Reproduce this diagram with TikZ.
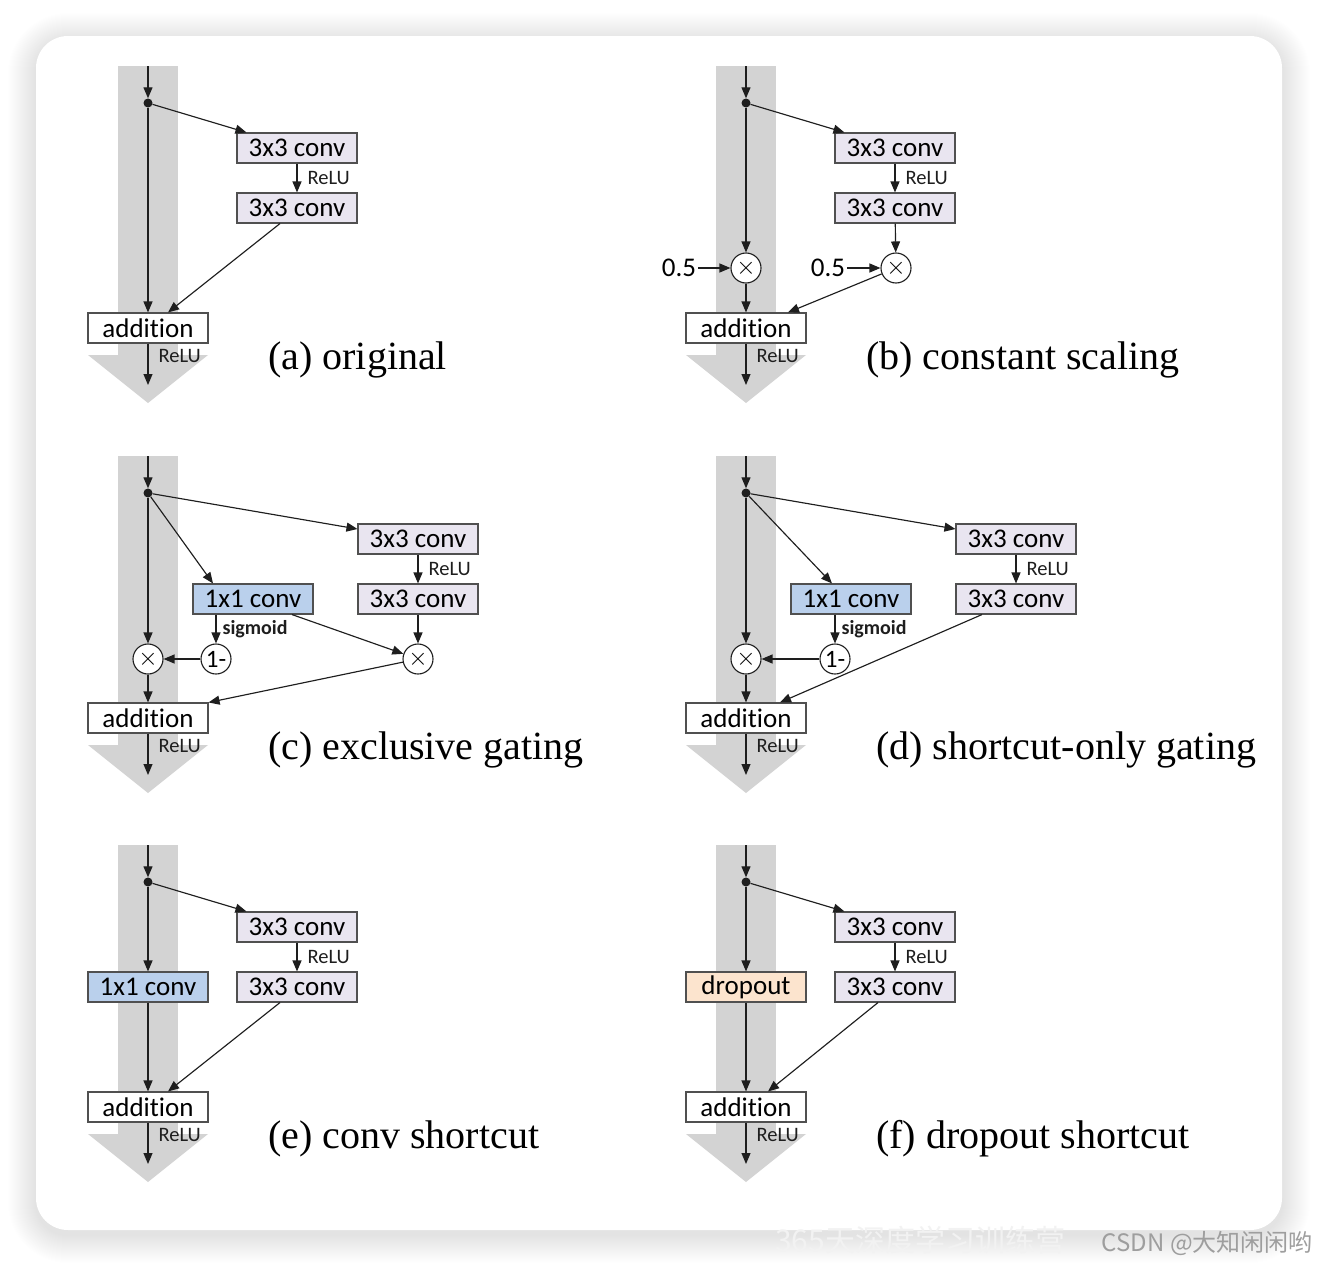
\documentclass[tikz,border=0pt]{standalone}
\usepackage{fontspec}
\setmainfont{Liberation Serif}
\newfontfamily\calfont[Ligatures=NoCommon]{Carlito}
\newfontfamily\cjkfont{Noto Sans CJK SC}
\usetikzlibrary{arrows.meta,positioning,calc}
\definecolor{band}{HTML}{D3D3D3}
\definecolor{ink}{HTML}{1E1E1E}
\definecolor{frame}{HTML}{505050}
\definecolor{lav}{HTML}{E9E5F0}
\definecolor{gate}{HTML}{BAD0EC}
\definecolor{drop}{HTML}{FCE4CE}

\begin{document}
\begin{tikzpicture}[x=1pt,y=-1pt,
  op/.style={draw=frame,line width=1.1pt,fill=white,minimum width=120pt,minimum height=30pt,inner sep=0pt,font=\calfont\fontsize{27}{30}\selectfont},
  conv/.style={op,fill=lav},
  mult/.style={circle,draw=ink,line width=1.1pt,fill=white,minimum size=30pt,inner sep=0pt,font=\fontsize{24}{24}\selectfont},
  split/.style={circle,fill=ink,inner sep=0pt,minimum size=9pt},
  flow/.style={ink,line width=1.15pt,-{Triangle[length=11pt,width=9pt]}},
  act/.style={anchor=west,xshift=10pt,inner sep=0pt,font=\calfont\fontsize{20.5}{22}\selectfont},
  half/.style={inner sep=2pt,font=\calfont\fontsize{27}{29}\selectfont},
  caption/.style={anchor=west,inner sep=0pt,font=\fontsize{40}{44}\selectfont}]
\useasboundingbox (0,0) rectangle (1318,1266);
\fill[white] (0,0) rectangle (1318,1266);
% card with soft shadow
\foreach \s in {1,...,28}{
  \pgfmathsetmacro\rr{32+\s}
  \fill[black,opacity=0.005,rounded corners=\rr pt] (36-\s,36-\s+5) rectangle (1282+\s,1230+\s+5);
}
\fill[white,rounded corners=32pt] (36,36) rectangle (1282,1230);
% grey identity bands
\foreach \ox/\oy in {148/103,746/103,148/493,746/493,148/882,746/882}{
  \fill[band] (\ox-30,\oy-37) rectangle (\ox+30,\oy+252);
  \fill[band] (\ox-60,\oy+252) -- (\ox+60,\oy+252) -- (\ox,\oy+300) -- cycle;
}

% (a) original
\begin{scope}[shift={(148,103)}]
  \coordinate (a-in) at (0,-37);
  \node[split] (a-dot) at (0,0) {};
  \node[conv] (a-c1) at (149,45) {3x3 conv};
  \node[conv] (a-c2) at (149,105) {3x3 conv};
  \node[op] (a-add) at (0,225) {addition};
  \coordinate (a-out) at (0,282);
  \draw[flow] (a-in) -- (a-dot);
  \draw[flow] (a-dot) -- (a-add);
  \draw[flow] (a-dot) -- ($(a-c1.north west)+(10,0)$);
  \draw[flow] (a-c1) -- node[act]{ReLU} (a-c2);
  \draw[flow] ($(a-c2.south)+(-17,0)$) -- ($(a-add.north)+(20,0)$);
  \draw[flow] (a-add) -- node[act,pos=0.3]{ReLU} (a-out);
  \node[caption] (a-cap) at (120,257) {(a) original};
\end{scope}

% (b) constant scaling
\begin{scope}[shift={(746,103)}]
  \coordinate (b-in) at (0,-37);
  \node[split] (b-dot) at (0,0) {};
  \node[conv] (b-c1) at (149,45) {3x3 conv};
  \node[conv] (b-c2) at (149,105) {3x3 conv};
  \node[mult] (b-m1) at (0,165) {$\times$};
  \node[mult] (b-m2) at (150,165) {$\times$};
  \node[half] (b-h1) at (-67,165) {0.5};
  \node[half] (b-h2) at (82,165) {0.5};
  \node[op] (b-add) at (0,225) {addition};
  \coordinate (b-out) at (0,282);
  \draw[flow] (b-in) -- (b-dot);
  \draw[flow] (b-dot) -- (b-m1);
  \draw[flow] (b-dot) -- ($(b-c1.north west)+(10,0)$);
  \draw[flow] (b-c1) -- node[act]{ReLU} (b-c2);
  \draw[flow] (b-c2) -- (b-m2);
  \draw[flow] (b-h1) -- (b-m1);
  \draw[flow] (b-h2) -- (b-m2);
  \draw[flow] (b-m1) -- (b-add);
  \draw[flow] (b-m2) -- ($(b-add.north)+(42,0)$);
  \draw[flow] (b-add) -- node[act,pos=0.3]{ReLU} (b-out);
  \node[caption] (b-cap) at (120,257) {(b) constant scaling};
\end{scope}

% (c) exclusive gating
\begin{scope}[shift={(148,493)}]
  \coordinate (c-in) at (0,-37);
  \node[split] (c-dot) at (0,0) {};
  \node[conv] (c-c1) at (270,46) {3x3 conv};
  \node[conv] (c-c2) at (270,106) {3x3 conv};
  \node[op,fill=gate] (c-g) at (105,106) {1x1 conv};
  \node[mult,font=\calfont\fontsize{25}{25}\selectfont] (c-one) at (68,166) {1-};
  \node[mult] (c-ml) at (0,166) {$\times$};
  \node[mult] (c-mr) at (270,166) {$\times$};
  \node[op] (c-add) at (0,225) {addition};
  \coordinate (c-out) at (0,282);
  \draw[flow] (c-in) -- (c-dot);
  \draw[flow] (c-dot) -- (c-ml);
  \draw[flow] (c-dot) -- ($(c-c1.west)+(0,-10)$);
  \draw[flow] (c-dot) -- ($(c-g.north)+(-40,0)$);
  \draw[flow] (c-c1) -- node[act]{ReLU} (c-c2);
  \draw[flow] (c-c2) -- (c-mr);
  \draw[flow] (c-one |- c-g.south) -- node[act,xshift=-4pt,font=\calfont\bfseries\fontsize{20}{22}\selectfont]{sigmoid} (c-one);
  \draw[flow] (c-one) -- (c-ml);
  \draw[flow] ($(c-g.south)+(39,0)$) -- (c-mr);
  \draw[flow] (c-ml) -- (c-add);
  \draw[flow] (c-mr) -- (c-add.north east);
  \draw[flow] (c-add) -- node[act,pos=0.3]{ReLU} (c-out);
  \node[caption] (c-cap) at (120,257) {(c) exclusive gating};
\end{scope}

% (d) shortcut-only gating
\begin{scope}[shift={(746,493)}]
  \coordinate (d-in) at (0,-37);
  \node[split] (d-dot) at (0,0) {};
  \node[conv] (d-c1) at (270,46) {3x3 conv};
  \node[conv] (d-c2) at (270,106) {3x3 conv};
  \node[op,fill=gate] (d-g) at (105,106) {1x1 conv};
  \node[mult,font=\calfont\fontsize{25}{25}\selectfont] (d-one) at (89,166) {1-};
  \node[mult] (d-ml) at (0,166) {$\times$};
  \node[op] (d-add) at (0,225) {addition};
  \coordinate (d-out) at (0,282);
  \draw[flow] (d-in) -- (d-dot);
  \draw[flow] (d-dot) -- (d-ml);
  \draw[flow] (d-dot) -- ($(d-c1.west)+(0,-10)$);
  \draw[flow] (d-dot) -- ($(d-g.north)+(-19,0)$);
  \draw[flow] (d-c1) -- node[act]{ReLU} (d-c2);
  \draw[flow] (d-one |- d-g.south) -- node[act,xshift=-4pt,font=\calfont\bfseries\fontsize{20}{22}\selectfont]{sigmoid} (d-one);
  \draw[flow] (d-one) -- (d-ml);
  \draw[flow] ($(d-c2.south)+(-34,0)$) -- ($(d-add.north)+(34,0)$);
  \draw[flow] (d-ml) -- (d-add);
  \draw[flow] (d-add) -- node[act,pos=0.3]{ReLU} (d-out);
  \node[caption] (d-cap) at (130,257) {(d) shortcut-only gating};
\end{scope}

% (e) conv shortcut
\begin{scope}[shift={(148,882)}]
  \coordinate (e-in) at (0,-37);
  \node[split] (e-dot) at (0,0) {};
  \node[conv] (e-c1) at (149,45) {3x3 conv};
  \node[conv] (e-c2) at (149,105) {3x3 conv};
  \node[op,fill=gate] (e-g) at (0,105) {1x1 conv};
  \node[op] (e-add) at (0,225) {addition};
  \coordinate (e-out) at (0,282);
  \draw[flow] (e-in) -- (e-dot);
  \draw[flow] (e-dot) -- (e-g);
  \draw[flow] (e-g) -- (e-add);
  \draw[flow] (e-dot) -- ($(e-c1.north west)+(10,0)$);
  \draw[flow] (e-c1) -- node[act]{ReLU} (e-c2);
  \draw[flow] ($(e-c2.south)+(-17,0)$) -- ($(e-add.north)+(20,0)$);
  \draw[flow] (e-add) -- node[act,pos=0.3]{ReLU} (e-out);
  \node[caption] (e-cap) at (120,257) {(e) conv shortcut};
\end{scope}

% (f) dropout shortcut
\begin{scope}[shift={(746,882)}]
  \coordinate (f-in) at (0,-37);
  \node[split] (f-dot) at (0,0) {};
  \node[conv] (f-c1) at (149,45) {3x3 conv};
  \node[conv] (f-c2) at (149,105) {3x3 conv};
  \node[op,fill=drop] (f-dp) at (0,105) {dropout};
  \node[op] (f-add) at (0,225) {addition};
  \coordinate (f-out) at (0,282);
  \draw[flow] (f-in) -- (f-dot);
  \draw[flow] (f-dot) -- (f-dp);
  \draw[flow] (f-dp) -- (f-add);
  \draw[flow] (f-dot) -- ($(f-c1.north west)+(10,0)$);
  \draw[flow] (f-c1) -- node[act]{ReLU} (f-c2);
  \draw[flow] ($(f-c2.south)+(-17,0)$) -- ($(f-add.north)+(22,0)$);
  \draw[flow] (f-add) -- node[act,pos=0.3]{ReLU} (f-out);
  \node[caption] (f-cap) at (130,257) {(f) dropout shortcut};
\end{scope}

% watermark
\node[anchor=west,inner sep=0pt,text=white!95!black,font=\cjkfont\fontsize{30}{32}\selectfont] (wm1) at (775,1240) {365天深度学习训练营};
\node[anchor=east,inner sep=0pt,text=black!38,font=\cjkfont\fontsize{24}{26}\selectfont] (wm2) at (1313,1243) {CSDN @大知闲闲哟};
\end{tikzpicture}
\end{document}
